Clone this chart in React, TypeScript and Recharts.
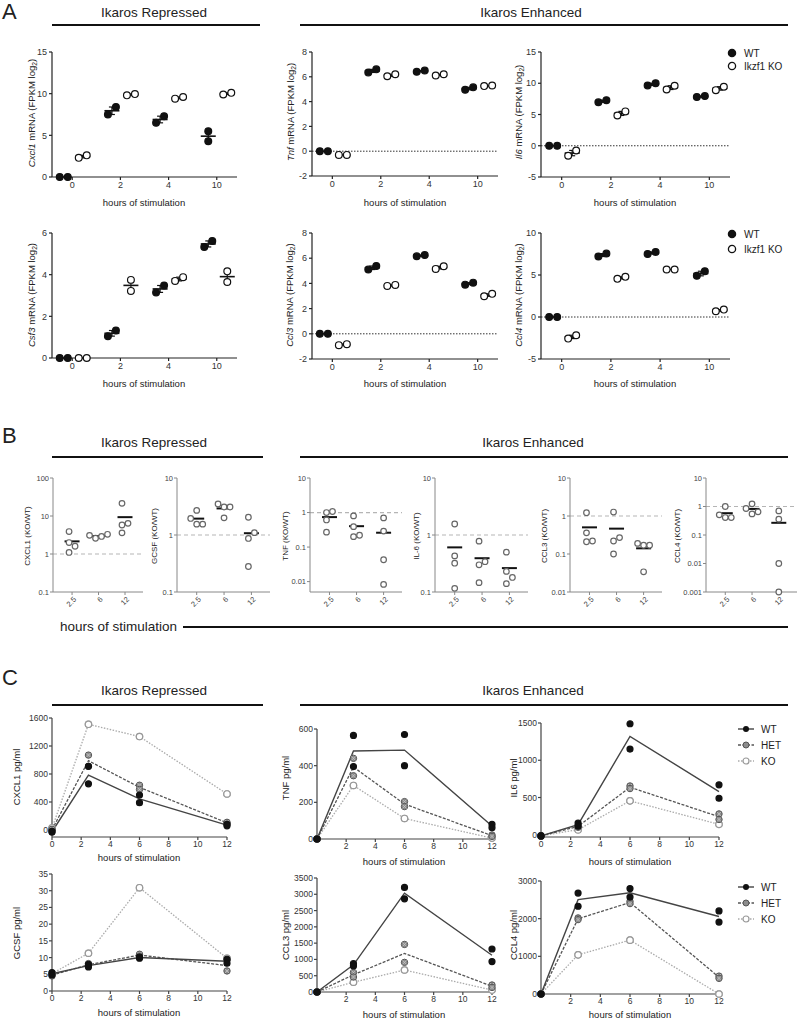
import React from "react";
import { ScatterChart, Scatter, XAxis, YAxis, ReferenceLine, ErrorBar } from "recharts";

const FONT = '"Liberation Sans", Arial, Helvetica, sans-serif';

// ---------- A: RNA-seq, log2 FPKM, two replicates per time point ----------
const hoursA = ["0", "2", "4", "10"];
const cxcl1WT = [[0, 0], [7.5, 8.4], [6.5, 7.3], [5.5, 4.3]];
const cxcl1KO = [[2.3, 2.6], [9.8, 9.95], [9.4, 9.6], [9.9, 10.1]];
const tnfWT = [[0, 0], [6.35, 6.6], [6.4, 6.5], [4.95, 5.15]];
const tnfKO = [[-0.3, -0.3], [6.05, 6.2], [6.1, 6.2], [5.25, 5.3]];
const il6WT = [[0, 0], [6.95, 7.3], [9.65, 10.0], [7.8, 7.95]];
const il6KO = [[-1.6, -0.75], [4.85, 5.5], [9.0, 9.6], [8.9, 9.45]];
const csf3WT = [[0, 0], [1.05, 1.32], [3.15, 3.48], [5.33, 5.62]];
const csf3KO = [[0, 0], [3.75, 3.22], [3.7, 3.88], [4.16, 3.65]];
const ccl3WT = [[0, 0], [5.1, 5.38], [6.15, 6.25], [3.9, 4.06]];
const ccl3KO = [[-0.9, -0.82], [3.8, 3.88], [5.15, 5.36], [2.98, 3.17]];
const ccl4WT = [[0, 0], [7.2, 7.55], [7.5, 7.75], [4.9, 5.45]];
const ccl4KO = [[-2.57, -2.17], [4.54, 4.78], [5.66, 5.66], [0.68, 0.88]];

// ---------- B: protein KO/WT ratios, four experiments ----------
const hoursB = ["2.5", "6", "12"];
const cxcl1Ratio = [[3.9, 2.0, 1.6, 1.1], [2.6, 2.9, 3.1, 3.3], [21.5, 6.4, 5.8, 3.6]];
const gcsfRatio = [[2.7, 1.95, 1.55, 1.55], [3.1, 3.1, 3.5, 2.0], [2.05, 1.1, 0.87, 0.28]];
const tnfRatio = [[1.0, 1.07, 0.61, 0.27], [0.8, 0.39, 0.2, 0.22], [0.7, 0.29, 0.043, 0.0083]];
const il6Ratio = [[1.56, 0.43, 0.32, 0.116], [0.78, 0.34, 0.3, 0.146], [0.5, 0.23, 0.18, 0.14]];
const ccl3Ratio = [[1.22, 0.36, 0.21, 0.22], [1.27, 0.27, 0.22, 0.1], [0.17, 0.17, 0.19, 0.034]];
const ccl4Ratio = [[1.0, 0.51, 0.41, 0.41], [1.24, 0.55, 0.65, 0.85], [0.7, 0.36, 0.01, 0.001]];

// ---------- C: cytokines pg/ml, WT / HET / KO ----------
const hoursC = [0, 2.5, 6, 12];
const cxcl1WTc = [[-30, -20], [910, 660], [500, 390], [60, 80]];
const cxcl1HET = [[0, 10], [1070, 910], [640, 580], [95, 110]];
const cxcl1KOc = [[20, 30], [1510, 1510], [1335, 1335], [515, 515]];
const gcsfWT = [[5.5, 4.8], [7.2, 8.0], [9.8, 10.2], [9.5, 8.3]];
const gcsfHET = [[4.5, 5.0], [7.5, 8.2], [10.5, 11.0], [6.0, 9.2]];
const gcsfKO = [[5.2, 5.2], [11.3, 11.3], [30.9, 30.9], [9.8, 9.8]];
const tnfWTc = [[0, 0], [565, 395], [570, 400], [80, 62]];
const tnfHET = [[0, 0], [440, 345], [204, 177], [22, 14]];
const tnfKOc = [[0, 0], [292, 292], [112, 112], [5, 5]];
const il6WTc = [[-15, -15], [158, 115], [1490, 1150], [670, 490]];
const il6HET = [[-15, -15], [125, 100], [655, 620], [280, 205]];
const il6KOc = [[-15, -15], [70, 65], [455, 455], [140, 140]];
const ccl3WTc = [[0, 0], [870, 800], [3210, 2860], [1320, 935]];
const ccl3HET = [[0, 0], [600, 460], [1460, 910], [215, 140]];
const ccl3KOc = [[0, 0], [300, 300], [675, 675], [60, 60]];
const ccl4WTc = [[0, 0], [2680, 2330], [2800, 2575], [2205, 1910]];
const ccl4HET = [[0, 0], [2020, 1975], [2460, 2400], [475, 415]];
const ccl4KOc = [[0, 0], [1040, 1040], [1430, 1430], [0, 0]];

const xTicksAll = [0, 2, 4, 6, 8, 10, 12];
const xTicksNoZero = [2, 4, 6, 8, 10, 12];

const mean = (v: number[]) => v.reduce((a, b) => a + b, 0) / v.length;
const sem = (v: number[]) => {
  const m = mean(v);
  const sd = Math.sqrt(v.reduce((a, b) => a + (b - m) ** 2, 0) / (v.length - 1));
  return sd / Math.sqrt(v.length);
};

// column-scatter spreading like Prism: nudge sideways only when points collide
function swarm(vals: number[], toPx: (v: number) => number, dy: number, dx: number) {
  const order = vals.map((_, i) => i).sort((a, b) => vals[a] - vals[b]);
  const placed: { x: number; y: number }[] = [];
  const off = vals.map(() => 0);
  const cands = [0];
  for (let k = 1; k < 6; k++) cands.push(k * dx, -k * dx);
  for (const i of order) {
    const y = toPx(vals[i]);
    const x =
      cands.find((c) => placed.every((p) => Math.abs(p.y - y) >= dy || Math.abs(p.x - c) >= dx - 0.01)) ?? 0;
    placed.push({ x, y });
    off[i] = x;
  }
  const mid = (Math.min(...off) + Math.max(...off)) / 2;
  return off.map((o) => o - mid);
}

type Rect = { x0: number; x1: number; y0: number; y1: number };
const L = 42;
const R = 6;
const T = 8;

const Nothing = () => <g />;
const Dot = (fill: string, stroke: string, r: number) => (p: any) =>
  <circle cx={p.cx} cy={p.cy} r={r} fill={fill} stroke={stroke} strokeWidth={1.2} />;
const HetDot = (p: any) => (
  <g>
    <circle cx={p.cx} cy={p.cy} r={3.2} fill="#8d8d8d" stroke="#555" strokeWidth={1} />
    <path d={`M${p.cx - 2} ${p.cy - 2}L${p.cx + 2} ${p.cy + 2}M${p.cx - 2} ${p.cy + 2}L${p.cx + 2} ${p.cy - 2}`} stroke="#c8c8c8" strokeWidth={0.8} />
  </g>
);
const Bar = (half: number, sw: number) => (p: any) =>
  <line x1={p.cx - half} x2={p.cx + half} y1={p.cy} y2={p.cy} stroke="#111" strokeWidth={sw} />;

const WTC = -8.5;
const KOC = 10.5;

function RnaPlot({ r, wt, ko, domain, ticks, zero }: { r: Rect; wt: number[][]; ko: number[][]; domain: number[]; ticks: number[]; zero?: boolean }) {
  const w = r.x1 - r.x0;
  const h = r.y1 - r.y0;
  const xDom = [-0.42, 3.42];
  const ppu = w / (xDom[1] - xDom[0]);
  const toPx = (v: number) => ((v - domain[0]) / (domain[1] - domain[0])) * h;
  const pts = (g: number[][], c: number) =>
    g.flatMap((vals, i) => {
      const o = swarm(vals, toPx, 9, 8);
      return vals.map((v, k) => ({ x: i + (c + o[k]) / ppu, y: v }));
    });
  const avg = (g: number[][], c: number) => g.map((vals, i) => ({ x: i + c / ppu, y: mean(vals), err: sem(vals) }));
  const B = 26;
  const ax = { stroke: "#222", strokeWidth: 1.2 };
  const tk = { fontSize: 9, fill: "#333", fontFamily: FONT };
  return (
    <div style={{ position: "absolute", left: r.x0 - L, top: r.y0 - T }}>
      <ScatterChart width={w + L + R} height={h + T + B} margin={{ top: T, right: R, left: 0, bottom: 0 }}>
        <XAxis type="number" dataKey="x" domain={xDom} ticks={[0, 1, 2, 3]} interval={0} tickFormatter={(v) => hoursA[v]} height={B} tickSize={3} tickMargin={2} axisLine={ax} tickLine={ax} tick={tk} />
        <YAxis type="number" dataKey="y" domain={domain} ticks={ticks} interval={0} width={L} tickSize={3} tickMargin={2} axisLine={ax} tickLine={ax} tick={tk} />
        {zero && <ReferenceLine y={0} stroke="#333" strokeDasharray="1.5 1.5" />}
        <Scatter data={avg(wt, WTC)} shape={Bar(7.5, 1.6)} isAnimationActive={false}>
          <ErrorBar dataKey="err" direction="y" width={3} stroke="#111" strokeWidth={1.2} />
        </Scatter>
        <Scatter data={avg(ko, KOC)} shape={Bar(7.5, 1.6)} isAnimationActive={false}>
          <ErrorBar dataKey="err" direction="y" width={3} stroke="#111" strokeWidth={1.2} />
        </Scatter>
        <Scatter data={pts(wt, WTC)} shape={Dot("#111", "#111", 3.4)} isAnimationActive={false} />
        <Scatter data={pts(ko, KOC)} shape={Dot("#fff", "#111", 3.4)} isAnimationActive={false} />
      </ScatterChart>
    </div>
  );
}

const RotTick = (props: any) => {
  const { x, y, payload } = props;
  const px = x + 3;
  const py = y + 1;
  return (
    <text x={px} y={py} transform={`rotate(-45 ${px} ${py})`} textAnchor="end" dominantBaseline="central" fontSize={7.5} fill="#444" fontFamily={FONT}>
      {hoursB[payload.value]}
    </text>
  );
};

function RatioPlot({ r, groups, domain, ticks }: { r: Rect; groups: number[][]; domain: number[]; ticks: number[] }) {
  const w = r.x1 - r.x0;
  const h = r.y1 - r.y0;
  const xDom = [-0.72, 2.68];
  const ppu = w / (xDom[1] - xDom[0]);
  const span = Math.log10(domain[1] / domain[0]);
  const toPx = (v: number) => (Math.log10(v / domain[0]) / span) * h;
  const pts = groups.flatMap((vals, i) => {
    const o = swarm(vals, toPx, 6.5, 6);
    return vals.map((v, k) => ({ x: i + o[k] / ppu, y: v }));
  });
  const avg = groups.map((vals, i) => ({ x: i, y: mean(vals) }));
  const B = 30;
  const ax = { stroke: "#888", strokeWidth: 1 };
  return (
    <div style={{ position: "absolute", left: r.x0 - L, top: r.y0 - T }}>
      <ScatterChart width={w + L + R} height={h + T + B} margin={{ top: T, right: R, left: 0, bottom: 0 }}>
        <XAxis type="number" dataKey="x" domain={xDom} ticks={[0, 1, 2]} interval={0} height={B} tickSize={3} axisLine={ax} tickLine={ax} tick={<RotTick />} />
        <YAxis type="number" dataKey="y" scale="log" domain={domain} ticks={ticks} interval={0} width={L} tickSize={3} tickMargin={1} axisLine={ax} tickLine={ax} tickFormatter={(v) => String(v)} tick={{ fontSize: 7.5, fill: "#444", fontFamily: FONT }} />
        <ReferenceLine y={1} stroke="#b5b5b5" strokeDasharray="4 3" strokeWidth={1.2} />
        <Scatter data={avg} shape={Bar(7.5, 2)} isAnimationActive={false} />
        <Scatter data={pts} shape={Dot("#fff", "#666", 2.8)} isAnimationActive={false} />
      </ScatterChart>
    </div>
  );
}

function CytoPlot({ r, wt, het, ko, domain, yTicks, xTicks }: { r: Rect; wt: number[][]; het: number[][]; ko: number[][]; domain: number[]; yTicks: number[]; xTicks: number[] }) {
  const w = r.x1 - r.x0;
  const h = r.y1 - r.y0;
  const line = (g: number[][]) => hoursC.map((t, i) => ({ x: t, y: mean(g[i]) }));
  const pts = (g: number[][]) => hoursC.flatMap((t, i) => g[i].map((v) => ({ x: t, y: v })));
  const B = 22;
  const ax = { stroke: "#444", strokeWidth: 1.2 };
  const tk = { fontSize: 8.5, fill: "#333", fontFamily: FONT };
  return (
    <div style={{ position: "absolute", left: r.x0 - L, top: r.y0 - T }}>
      <ScatterChart width={w + L + R} height={h + T + B} margin={{ top: T, right: R, left: 0, bottom: 0 }}>
        <XAxis type="number" dataKey="x" domain={[0, 12]} ticks={xTicks} interval={0} height={B} tickSize={3} tickMargin={1} axisLine={ax} tickLine={ax} tick={tk} />
        <YAxis type="number" dataKey="y" domain={domain} ticks={yTicks} interval={0} width={L} tickSize={3} tickMargin={1} axisLine={ax} tickLine={ax} tick={tk} />
        <Scatter data={line(ko)} line={{ stroke: "#aaa", strokeWidth: 1.3, strokeDasharray: "1.5 1.5" }} shape={Nothing} isAnimationActive={false} />
        <Scatter data={line(het)} line={{ stroke: "#555", strokeWidth: 1.3, strokeDasharray: "3 1.5" }} shape={Nothing} isAnimationActive={false} />
        <Scatter data={line(wt)} line={{ stroke: "#444", strokeWidth: 1.4 }} shape={Nothing} isAnimationActive={false} />
        <Scatter data={pts(ko)} shape={Dot("#fff", "#999", 3.2)} isAnimationActive={false} />
        <Scatter data={pts(het)} shape={HetDot} isAnimationActive={false} />
        <Scatter data={pts(wt)} shape={Dot("#111", "#111", 3)} isAnimationActive={false} />
      </ScatterChart>
    </div>
  );
}

const Txt = ({ x, y, size, children, weight }: { x: number; y: number; size: number; children: React.ReactNode; weight?: number }) => (
  <div style={{ position: "absolute", left: x, top: y, transform: "translate(-50%, -50%)", fontSize: size, whiteSpace: "nowrap", lineHeight: 1, fontWeight: weight }}>
    {children}
  </div>
);
const VTxt = ({ x, y, size, children }: { x: number; y: number; size: number; children: React.ReactNode }) => (
  <div style={{ position: "absolute", left: x, top: y, transform: "translate(-50%, -50%) rotate(-90deg)", fontSize: size, whiteSpace: "nowrap", lineHeight: 1 }}>
    {children}
  </div>
);
const HLine = ({ x0, x1, y, w = 1.5 }: { x0: number; x1: number; y: number; w?: number }) => (
  <div style={{ position: "absolute", left: x0, top: y - w / 2, width: x1 - x0, height: w, background: "#111" }} />
);
const Letter = ({ x, y, c }: { x: number; y: number; c: string }) => (
  <div style={{ position: "absolute", left: x, top: y, fontSize: 22, lineHeight: 1 }}>{c}</div>
);
const Sub2 = () => <sub style={{ fontSize: "70%", verticalAlign: "-0.25em" }}>2</sub>;
const mrna = (g: string) => (
  <>
    <i>{g}</i> mRNA (FPKM log<Sub2 />)
  </>
);

const LegA = ({ y, open, label }: { y: number; open?: boolean; label: string }) => (
  <div style={{ position: "absolute", left: 727, top: y - 6, height: 12, display: "flex", alignItems: "center", fontSize: 10 }}>
    <svg width={12} height={12}>
      <circle cx={5} cy={6} r={3.6} fill={open ? "#fff" : "#111"} stroke="#111" strokeWidth={1.3} />
    </svg>
    <span style={{ marginLeft: 5 }}>{label}</span>
  </div>
);
const LegC = ({ y, kind }: { y: number; kind: "WT" | "HET" | "KO" }) => {
  const stroke = kind === "WT" ? "#333" : kind === "HET" ? "#555" : "#aaa";
  const dash = kind === "WT" ? undefined : kind === "HET" ? "3 1.5" : "1.5 1.5";
  return (
    <div style={{ position: "absolute", left: 737, top: y - 6, height: 12, display: "flex", alignItems: "center", fontSize: 10 }}>
      <svg width={18} height={12}>
        <line x1={1} x2={17} y1={6} y2={6} stroke={stroke} strokeWidth={1.3} strokeDasharray={dash} />
        {kind === "WT" && <circle cx={9} cy={6} r={3} fill="#111" />}
        {kind === "HET" && <circle cx={9} cy={6} r={3} fill="#8d8d8d" stroke="#555" />}
        {kind === "KO" && <circle cx={9} cy={6} r={3} fill="#fff" stroke="#999" strokeWidth={1.2} />}
      </svg>
      <span style={{ marginLeft: 6 }}>{kind}</span>
    </div>
  );
};

export default function App() {
  return (
    <div style={{ position: "absolute", left: 0, top: 0, width: 800, height: 1021, background: "#fff", fontFamily: FONT, color: "#222" }}>
      {/* ---- A ---- */}
      <Letter x={2} y={1} c="A" />
      <Txt x={154} y={13} size={13.5}>Ikaros Repressed</Txt>
      <HLine x0={52} x1={260} y={25} />
      <Txt x={531} y={13} size={13.5}>Ikaros Enhanced</Txt>
      <HLine x0={300} x1={788} y={25} />

      <RnaPlot r={{ x0: 52, x1: 237, y0: 52, y1: 177 }} wt={cxcl1WT} ko={cxcl1KO} domain={[0, 15]} ticks={[0, 5, 10, 15]} />
      <RnaPlot r={{ x0: 312, x1: 498, y0: 52, y1: 176 }} wt={tnfWT} ko={tnfKO} domain={[-2, 8]} ticks={[-2, 0, 2, 4, 6, 8]} zero />
      <RnaPlot r={{ x0: 541, x1: 730, y0: 52, y1: 177 }} wt={il6WT} ko={il6KO} domain={[-5, 15]} ticks={[-5, 0, 5, 10, 15]} zero />
      <RnaPlot r={{ x0: 52, x1: 237, y0: 233, y1: 358 }} wt={csf3WT} ko={csf3KO} domain={[0, 6]} ticks={[0, 2, 4, 6]} />
      <RnaPlot r={{ x0: 312, x1: 498, y0: 233, y1: 359 }} wt={ccl3WT} ko={ccl3KO} domain={[-2, 8]} ticks={[-2, 0, 2, 4, 6, 8]} zero />
      <RnaPlot r={{ x0: 541, x1: 730, y0: 233, y1: 359 }} wt={ccl4WT} ko={ccl4KO} domain={[-5, 10]} ticks={[-5, 0, 5, 10]} zero />

      <VTxt x={33} y={113} size={9.5}>{mrna("Cxcl1")}</VTxt>
      <VTxt x={292} y={112} size={9.5}>{mrna("Tnf")}</VTxt>
      <VTxt x={520} y={112} size={9.5}>{mrna("Il6")}</VTxt>
      <VTxt x={33} y={295} size={9.5}>{mrna("Csf3")}</VTxt>
      <VTxt x={291} y={295} size={9.5}>{mrna("Ccl3")}</VTxt>
      <VTxt x={520} y={295} size={9.5}>{mrna("Ccl4")}</VTxt>
      {[144, 405, 635].map((x) => (
        <React.Fragment key={x}>
          <Txt x={x} y={203} size={9.5}>hours of stimulation</Txt>
          <Txt x={x} y={384} size={9.5}>hours of stimulation</Txt>
        </React.Fragment>
      ))}
      <LegA y={53} label="WT" />
      <LegA y={66} open label="Ikzf1 KO" />
      <LegA y={234} label="WT" />
      <LegA y={249} open label="Ikzf1 KO" />

      {/* ---- B ---- */}
      <Letter x={2} y={425} c="B" />
      <Txt x={154} y={443} size={13.5}>Ikaros Repressed</Txt>
      <HLine x0={52} x1={263} y={457} />
      <Txt x={533} y={443} size={13.5}>Ikaros Enhanced</Txt>
      <HLine x0={300} x1={788} y={457} />

      <RatioPlot r={{ x0: 53, x1: 143, y0: 478, y1: 592 }} groups={cxcl1Ratio} domain={[0.1, 100]} ticks={[0.1, 1, 10, 100]} />
      <RatioPlot r={{ x0: 177, x1: 270, y0: 478, y1: 592 }} groups={gcsfRatio} domain={[0.1, 10]} ticks={[0.1, 1, 10]} />
      <RatioPlot r={{ x0: 310, x1: 402, y0: 478, y1: 592 }} groups={tnfRatio} domain={[0.005, 10]} ticks={[0.01, 0.1, 1, 10]} />
      <RatioPlot r={{ x0: 435, x1: 528, y0: 478, y1: 592 }} groups={il6Ratio} domain={[0.1, 10]} ticks={[0.1, 1, 10]} />
      <RatioPlot r={{ x0: 570, x1: 662, y0: 478, y1: 592 }} groups={ccl3Ratio} domain={[0.01, 10]} ticks={[0.01, 0.1, 1, 10]} />
      <RatioPlot r={{ x0: 706, x1: 797, y0: 478, y1: 592 }} groups={ccl4Ratio} domain={[0.001, 10]} ticks={[0.001, 0.01, 0.1, 1, 10]} />

      <VTxt x={28} y={536} size={8}>CXCL1 (KO/WT)</VTxt>
      <VTxt x={155} y={536} size={8}>GCSF (KO/WT)</VTxt>
      <VTxt x={286} y={536} size={8}>TNF (KO/WT)</VTxt>
      <VTxt x={417} y={536} size={8}>IL-6 (KO/WT)</VTxt>
      <VTxt x={545} y={536} size={8}>CCL3 (KO/WT)</VTxt>
      <VTxt x={678} y={536} size={8}>CCL4 (KO/WT)</VTxt>
      <div style={{ position: "absolute", left: 60, top: 627, transform: "translateY(-50%)", fontSize: 13.5, lineHeight: 1, whiteSpace: "nowrap" }}>hours of stimulation</div>
      <HLine x0={183} x1={788} y={627} />

      {/* ---- C ---- */}
      <Letter x={2} y={667} c="C" />
      <Txt x={154} y={691} size={13.5}>Ikaros Repressed</Txt>
      <HLine x0={52} x1={263} y={705} />
      <Txt x={533} y={691} size={13.5}>Ikaros Enhanced</Txt>
      <HLine x0={300} x1={788} y={705} />

      <CytoPlot r={{ x0: 52, x1: 227, y0: 718, y1: 837 }} wt={cxcl1WTc} het={cxcl1HET} ko={cxcl1KOc} domain={[-100, 1600]} yTicks={[0, 400, 800, 1200, 1600]} xTicks={xTicksAll} />
      <CytoPlot r={{ x0: 317, x1: 492, y0: 729, y1: 839 }} wt={tnfWTc} het={tnfHET} ko={tnfKOc} domain={[0, 600]} yTicks={[0, 200, 400, 600]} xTicks={xTicksNoZero} />
      <CytoPlot r={{ x0: 541, x1: 719, y0: 723, y1: 837 }} wt={il6WTc} het={il6HET} ko={il6KOc} domain={[-30, 1500]} yTicks={[0, 500, 1000, 1500]} xTicks={xTicksAll} />
      <CytoPlot r={{ x0: 52, x1: 227, y0: 874, y1: 991 }} wt={gcsfWT} het={gcsfHET} ko={gcsfKO} domain={[0, 35]} yTicks={[0, 5, 10, 15, 20, 25, 30, 35]} xTicks={xTicksAll} />
      <CytoPlot r={{ x0: 317, x1: 492, y0: 878, y1: 992 }} wt={ccl3WTc} het={ccl3HET} ko={ccl3KOc} domain={[0, 3500]} yTicks={[0, 500, 1000, 1500, 2000, 2500, 3000, 3500]} xTicks={xTicksNoZero} />
      <CytoPlot r={{ x0: 541, x1: 719, y0: 881, y1: 994 }} wt={ccl4WTc} het={ccl4HET} ko={ccl4KOc} domain={[0, 3000]} yTicks={[0, 1000, 2000, 3000]} xTicks={xTicksNoZero} />

      <VTxt x={17} y={777} size={9.5}>CXCL1 pg/ml</VTxt>
      <VTxt x={286} y={778} size={9.5}>TNF pg/ml</VTxt>
      <VTxt x={514} y={778} size={9.5}>IL6 pg/ml</VTxt>
      <VTxt x={17} y={933} size={9.5}>GCSF pg/ml</VTxt>
      <VTxt x={286} y={935} size={9.5}>CCL3 pg/ml</VTxt>
      <VTxt x={514} y={935} size={9.5}>CCL4 pg/ml</VTxt>
      <Txt x={139} y={858} size={9.5}>hours of stimulation</Txt>
      <Txt x={404} y={862} size={9.5}>hours of stimulation</Txt>
      <Txt x={630} y={862} size={9.5}>hours of stimulation</Txt>
      <Txt x={139} y={1013} size={9.5}>hours of stimulation</Txt>
      <Txt x={404} y={1015} size={9.5}>hours of stimulation</Txt>
      <Txt x={630} y={1015} size={9.5}>hours of stimulation</Txt>
      <LegC y={729} kind="WT" />
      <LegC y={745} kind="HET" />
      <LegC y={761} kind="KO" />
      <LegC y={887} kind="WT" />
      <LegC y={903} kind="HET" />
      <LegC y={919} kind="KO" />
    </div>
  );
}
